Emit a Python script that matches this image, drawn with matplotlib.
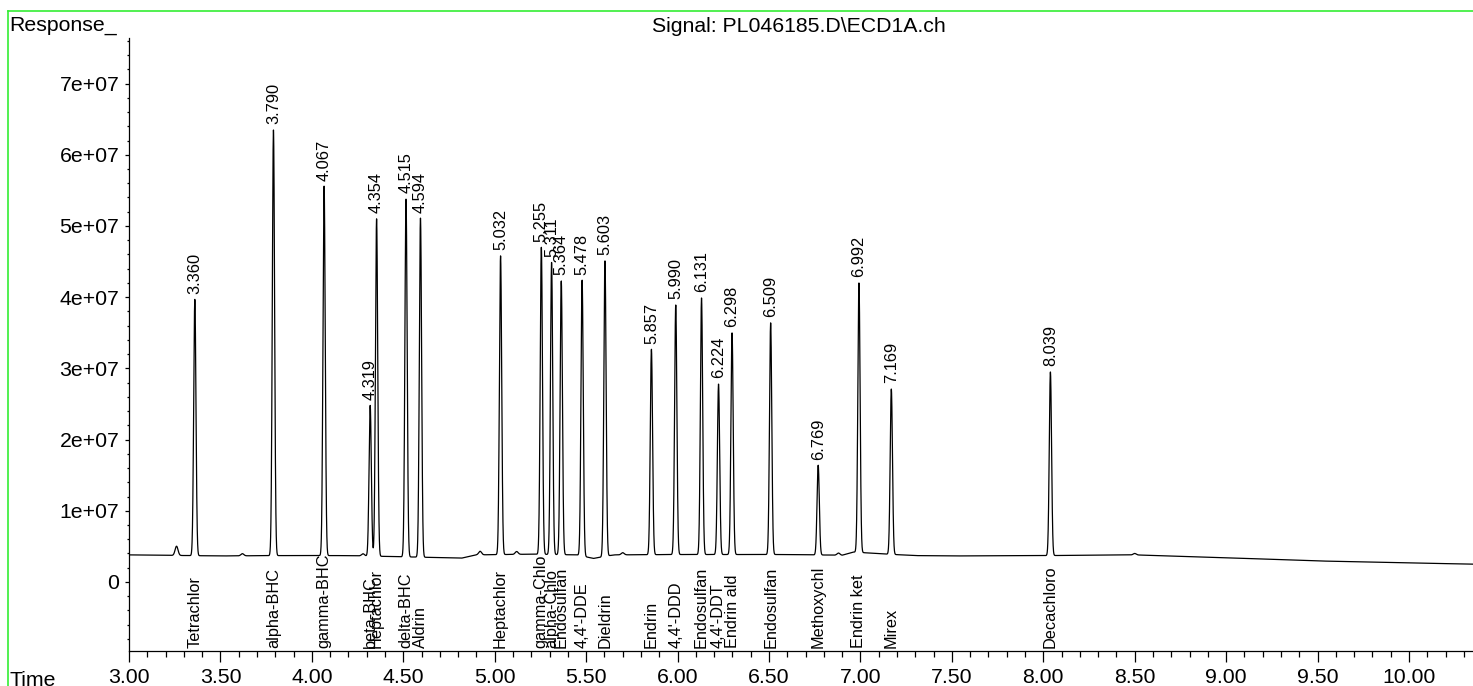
import numpy as np
import matplotlib
matplotlib.use("Agg")
import matplotlib.pyplot as plt
from matplotlib.lines import Line2D
from matplotlib.ticker import MultipleLocator

plt.rcParams['font.family'] = ['Liberation Sans', 'DejaVu Sans']

# ---- data ----
peak_rt = [3.360, 3.790, 4.067, 4.319, 4.354, 4.515, 4.594, 5.032, 5.255, 5.311,
           5.364, 5.478, 5.603, 5.857, 5.990, 6.131, 6.224, 6.298, 6.509, 6.769,
           6.992, 7.169, 8.039]
peak_top = [3.97e7, 6.35e7, 5.56e7, 2.48e7, 5.10e7, 5.38e7, 5.11e7, 4.58e7, 4.70e7, 4.49e7,
            4.23e7, 4.24e7, 4.51e7, 3.27e7, 3.89e7, 3.99e7, 2.78e7, 3.50e7, 3.64e7, 1.64e7,
            4.20e7, 2.71e7, 2.95e7]
compounds = ["Tetrachlor", "alpha-BHC", "gamma-BHC", "beta-BHC", "Heptachlor", "delta-BHC",
             "Aldrin", "Heptachlor", "gamma-Chlo", "alpha-Chlo", "Endosulfan", "4,4'-DDE",
             "Dieldrin", "Endrin", "4,4'-DDD", "Endosulfan", "4,4'-DDT", "Endrin ald",
             "Endosulfan", "Methoxychl", "Endrin ket", "Mirex", "Decachloro"]

# small unlabelled bumps (time, amplitude above baseline)
minor_rt = [3.26, 3.62, 4.28, 4.92, 5.12, 5.70, 6.88, 8.50]
minor_amp = [1.3e6, 3.0e5, 3.0e5, 5.0e5, 4.0e5, 3.0e5, 3.0e5, 2.0e5]

# baseline level read at several times
base_t = [3.00, 3.50, 3.80, 4.20, 4.82, 4.90, 5.20, 5.45, 5.54, 5.65, 6.00, 6.60, 6.90,
          6.96, 7.15, 7.30, 7.50, 8.00, 8.50, 9.00, 9.50, 10.00, 10.35]
base_v = [3.8e6, 3.65e6, 3.7e6, 3.7e6, 3.35e6, 3.8e6, 3.9e6, 3.8e6, 3.3e6, 3.8e6, 3.85e6,
          3.85e6, 3.75e6, 4.2e6, 3.9e6, 3.7e6, 3.65e6, 3.7e6, 3.8e6, 3.4e6, 2.95e6, 2.67e6,
          2.5e6]

xticks = [3.0, 3.5, 4.0, 4.5, 5.0, 5.5, 6.0, 6.5, 7.0, 7.5, 8.0, 8.5, 9.0, 9.5, 10.0]
yticks = [0, 1e7, 2e7, 3e7, 4e7, 5e7, 6e7, 7e7]

# ---- build trace ----
t = np.linspace(3.0, 10.35, 14000)
baseline = np.interp(t, base_t, base_v)
signal = baseline.copy()
sigma = 0.0062
for rt, top in zip(peak_rt, peak_top):
    amp = top - np.interp(rt, base_t, base_v)
    signal += amp * np.exp(-0.5 * ((t - rt) / sigma) ** 2)
for rt, amp in zip(minor_rt, minor_amp):
    signal += amp * np.exp(-0.5 * ((t - rt) / 0.008) ** 2)

# ---- figure ----
W, H = 1473, 686
fig = plt.figure(figsize=(W / 100, H / 100), dpi=100)
ax = fig.add_axes([129 / W, 1 - 651 / H, 1 - 129 / W, (651 - 38) / H])

ax.plot(t, signal, color='black', lw=0.9)
ax.set_xlim(3.0, 10.35)
ax.set_ylim(-0.97e7, 7.64e7)

for s in ['top', 'right']:
    ax.spines[s].set_visible(False)
ax.spines['left'].set_linewidth(0.9)
ax.spines['bottom'].set_linewidth(0.9)

ax.set_xticks(xticks)
ax.set_xticklabels([f"{v:.2f}" for v in xticks])
ax.xaxis.set_minor_locator(MultipleLocator(0.1))
ax.set_yticks(yticks)
ax.set_yticklabels(["0"] + [f"{int(v/1e7)}e+07" for v in yticks[1:]])
ax.yaxis.set_minor_locator(MultipleLocator(2e6))

ax.tick_params(axis='x', which='major', direction='out', length=8, width=0.9,
               labelsize=15.3, pad=4.5)
ax.tick_params(axis='x', which='minor', direction='out', length=4.5, width=0.9)
ax.tick_params(axis='y', which='major', direction='out', length=3, width=0.9,
               labelsize=15.3, pad=4)
ax.tick_params(axis='y', which='minor', direction='out', length=1.8, width=0.9)

# retention time labels above peaks
for rt, top in zip(peak_rt, peak_top):
    ax.annotate(f"{rt:.3f}", xy=(rt, top), xytext=(0, 4), textcoords='offset points',
                rotation=90, ha='center', va='bottom', fontsize=11.8)

# compound names at bottom
trans = ax.get_xaxis_transform()
for rt, name in zip(peak_rt, compounds):
    ax.text(rt, 0.005, name, transform=trans, rotation=90, ha='center', va='bottom',
            fontsize=11.7)

# texts in figure
fig.text(9 / W, 1 - 31 / H, "Response_", fontsize=15.3, ha='left', va='baseline')
fig.text(799 / W, 1 - 32 / H, "Signal: PL046185.D\\ECD1A.ch", fontsize=15.3,
         ha='center', va='baseline')
fig.text(10 / W, 1 - 671 / H, "Time", fontsize=15.3, ha='left', va='top')

# green frame lines
fig.add_artist(Line2D([8 / W, 1.0], [1 - 11 / H, 1 - 11 / H], color='#33ee33', lw=1.2,
                      transform=fig.transFigure))
fig.add_artist(Line2D([8 / W, 8 / W], [1 - 11 / H, 0.0], color='#33ee33', lw=1.2,
                      transform=fig.transFigure))

fig.savefig("out.png", dpi=100)
